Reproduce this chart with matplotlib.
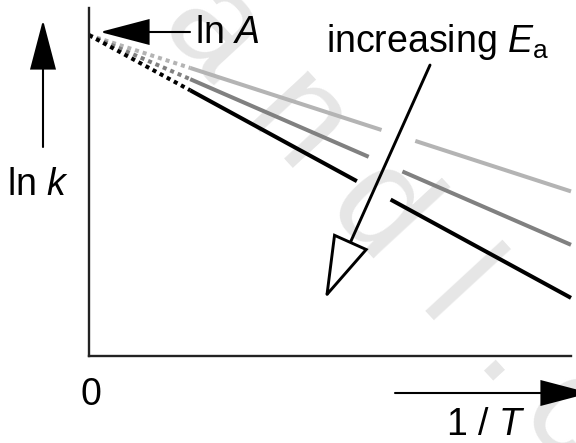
import matplotlib
matplotlib.use("Agg")
import matplotlib.pyplot as plt
import numpy as np
from matplotlib.patches import FancyArrowPatch
from matplotlib import transforms

plt.rcParams['font.family'] = ['Liberation Sans', 'DejaVu Sans']
plt.rcParams['mathtext.fontset'] = 'custom'
plt.rcParams['mathtext.rm'] = 'Liberation Sans'
plt.rcParams['mathtext.it'] = 'Liberation Sans:italic'

# ---- data: schematic Arrhenius plot, ln k = ln A - (Ea/R)(1/T) ----
ln_A = 0.922
slopes = [-0.449, -0.6025, -0.755]          # -Ea/R, increasing Ea
line_colors = ['#b4b4b4', '#808080', '#000000']
x_extrap = 0.21                               # end of dotted extrapolation
x_max = 1.0
axis_labels = ['ln $k$', '1 / $T$']
origin_label = '0'
intercept_label = 'ln $A$'
trend_label = r'increasing $E_\mathrm{a}$'
watermark_chars = ['a', 'n', 'd', 'l', '.', 'c']

# ---- layout ----
W, H = 576, 443
fig = plt.figure(figsize=(W / 100, H / 100), dpi=100)
fig.patch.set_facecolor('white')
px = transforms.Affine2D().scale(1 / W, -1 / H).translate(0, 1) + fig.transFigure

# faint watermark (behind everything)
u = np.array([0.678, 0.735])
B = np.array([350.0, 240.0])
wm_offsets = [-245, -121, 0, 111, 197, 279]
for ch, s in zip(watermark_chars, wm_offsets):
    p = B + s * u
    fig.text(p[0], p[1], ch, transform=px, fontsize=104, color='#e6e6e6',
             rotation=-47.3, rotation_mode='anchor', ha='center', va='baseline',
             zorder=-5)

ax = fig.add_axes([89 / W, (H - 356) / H, 482 / W, 348 / H])
ax.patch.set_alpha(0)
ax.set_xlim(0, 1)
ax.set_ylim(0, 1)
ax.set_xticks([])
ax.set_yticks([])
for sp in ['top', 'right']:
    ax.spines[sp].set_visible(False)
for sp in ['left', 'bottom']:
    ax.spines[sp].set_linewidth(1.7)
    ax.spines[sp].set_color('#222222')

# arrow for "increasing Ea" in data coords
ea_start = np.array([0.7075, 0.836])
ea_end = np.array([0.4896, 0.164])
gap_half = 0.035
d = ea_end - ea_start

lw_line = 2.9
for m, c in zip(slopes, line_colors):
    xd = np.array([0.0, x_extrap])
    ax.plot(xd, ln_A + m * xd, color=c, lw=lw_line, linestyle=(0, (1, 1)),
            dash_capstyle='butt', clip_on=False)
    t = (ln_A + m * ea_start[0] - ea_start[1]) / (d[1] - m * d[0])
    xc = ea_start[0] + t * d[0]
    x1 = np.array([x_extrap, xc - gap_half])
    x2 = np.array([xc + gap_half, x_max])
    for xs in (x1, x2):
        ax.plot(xs, ln_A + m * xs, color=c, lw=lw_line, solid_capstyle='butt',
                clip_on=False)

ea_arrow = FancyArrowPatch(tuple(ea_start), tuple(ea_end), transform=ax.transData,
                           arrowstyle='-|>,head_length=41,head_width=12.5',
                           mutation_scale=1, fc='white', ec='black', lw=2.1,
                           shrinkA=0, shrinkB=0, joinstyle='miter', clip_on=False,
                           zorder=5)
ax.add_patch(ea_arrow)


def px_arrow(p0, p1):
    a = FancyArrowPatch(p0, p1, transform=px,
                        arrowstyle='-|>,head_length=32,head_width=8.4',
                        mutation_scale=1, fc='black', ec='black', lw=1.5,
                        shrinkA=0, shrinkB=0, joinstyle='miter', zorder=5)
    fig.add_artist(a)


px_arrow((43, 147), (43, 20))
px_arrow((190, 32), (100, 32))
px_arrow((395, 393), (590, 393))

fs = 27
fig.text(7, 195, axis_labels[0], transform=px, fontsize=fs, ha='left', va='baseline')
fig.text(446, 435, axis_labels[1], transform=px, fontsize=fs, ha='left', va='baseline')
fig.text(91, 405, origin_label, transform=px, fontsize=fs, ha='center', va='baseline')
fig.text(195, 43, intercept_label, transform=px, fontsize=fs, ha='left', va='baseline')
fig.text(326, 52, trend_label, transform=px, fontsize=fs, ha='left', va='baseline')

fig.savefig('out.png', dpi=100, facecolor='white')
